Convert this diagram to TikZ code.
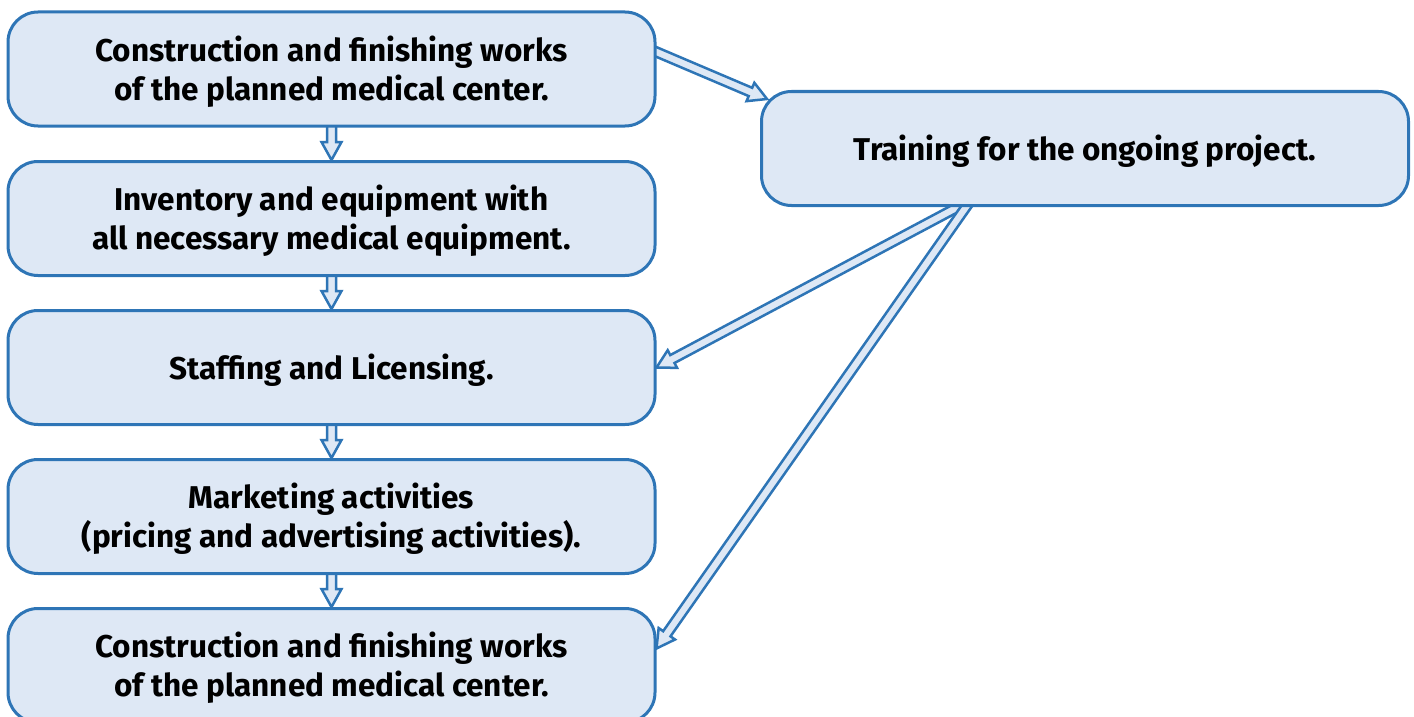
\documentclass[tikz,border=0pt]{standalone}
\usepackage{fontspec}
\setmainfont{Fira Sans}
\usetikzlibrary{calc}
\definecolor{edgeblue}{HTML}{2E75B6}
\definecolor{boxfill}{HTML}{DEE8F5}
\pgfdeclarelayer{back}
\pgfsetlayers{back,main}

\tikzset{
  box/.style={draw=edgeblue, fill=boxfill, line width=3pt, rounded corners=30pt,
    minimum width=647pt, minimum height=114pt, text=black,
    font=\fontsize{31.5}{39}\selectfont\bfseries},
  arrowshape/.style={draw=edgeblue, fill=boxfill, line width=2.5pt, line join=miter},
}

% centred lines, set a little below the middle of the box
\newcommand\boxtext[1]{\raisebox{-4pt}[\height][\depth]{\begin{tabular}{@{}c@{}}#1\end{tabular}}}

% hollow block arrow from #1 to the tip #2
\newcommand\blockarrow[2]{%
  \coordinate (ba-a) at ($(#1)!-8pt!(#2)$);
  \coordinate (ba-b) at (#2);
  \coordinate (ba-c) at ($(#2)!18pt!(#1)$);
  \draw[arrowshape]
    ($(ba-a)!4.5pt!90:(ba-b)$) -- ($(ba-c)!4.5pt!90:(ba-b)$) --
    ($(ba-c)!10pt!90:(ba-b)$) -- (ba-b) --
    ($(ba-c)!10pt!-90:(ba-b)$) -- ($(ba-c)!4.5pt!-90:(ba-b)$) --
    ($(ba-a)!4.5pt!-90:(ba-b)$) -- cycle;
}

\begin{document}
\begin{tikzpicture}[x=1pt, y=-1pt]
  \useasboundingbox (0,0) rectangle (1414,717);
  \clip (0,0) rectangle (1414,717);

  \node[box] (b1) at (331.5,69)    {\boxtext{Construction and finishing works\\of the planned medical center.}};
  \node[box] (b2) at (331.5,218.5) {\boxtext{Inventory and equipment with\\all necessary medical equipment.}};
  \node[box] (b3) at (331.5,367.5) {\boxtext{Staffing and Licensing.}};
  \node[box] (b4) at (331.5,516.5) {\boxtext{Marketing activities\\(pricing and advertising activities).}};
  \node[box] (b5) at (331.5,665.5) {\boxtext{Construction and finishing works\\of the planned medical center.}};
  \node[box] (r)  at (1085,148.5)  {\boxtext{Training for the ongoing project.}};

  \coordinate (r-in)   at ($(b1.east)+(0,-17)$);
  \coordinate (r-tip)  at ($(r.north west)+(7,9)$);
  \coordinate (r-out1) at ($(r.south)+(-127,0)$);
  \coordinate (r-out2) at ($(r.south)+(-119,0)$);
  \coordinate (b5-tip) at ($(b5.east)+(0,-17)$);

  \begin{pgfonlayer}{back}
    \blockarrow{b1.south}{b2.north}
    \blockarrow{b2.south}{b3.north}
    \blockarrow{b3.south}{b4.north}
    \blockarrow{b4.south}{b5.north}
    \blockarrow{r-in}{r-tip}
    \blockarrow{r-out1}{b3.east}
    \blockarrow{r-out2}{b5-tip}
  \end{pgfonlayer}
\end{tikzpicture}
\end{document}
